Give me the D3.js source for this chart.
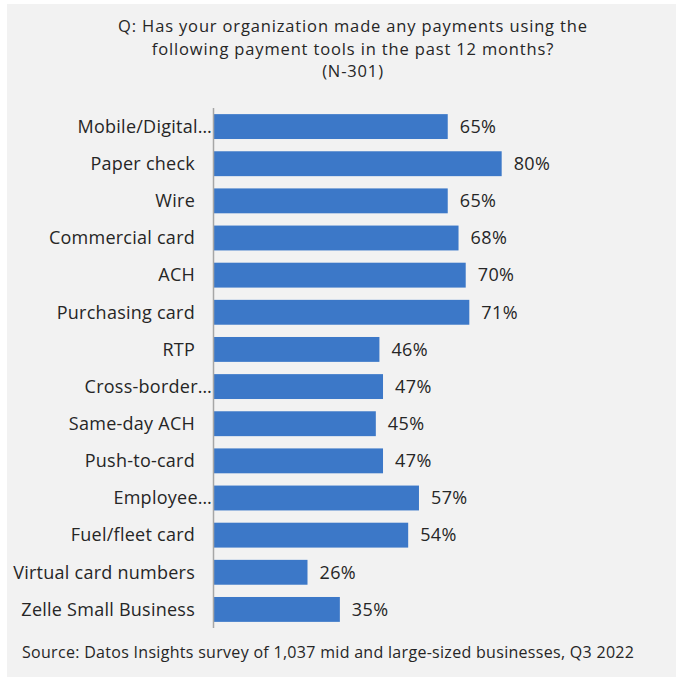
<!DOCTYPE html>
<html>
<head>
<meta charset="utf-8">
<script src="https://cdn.jsdelivr.net/npm/d3@7"></script>
<style>
  html, body { margin: 0; padding: 0; background: #ffffff; }
  svg { display: block; font-family: "Open Sans", Lato, sans-serif; }
</style>
</head>
<body>
<svg id="chart" width="679" height="680"></svg>
<script>
// Survey: payment tools used in the past 12 months (share of respondents)
const categories = [
  "Mobile/Digital…", "Paper check", "Wire", "Commercial card", "ACH",
  "Purchasing card", "RTP", "Cross-border…", "Same-day ACH", "Push-to-card",
  "Employee…", "Fuel/fleet card", "Virtual card numbers", "Zelle Small Business"
];
const values = [65, 80, 65, 68, 70, 71, 46, 47, 45, 47, 57, 54, 26, 35];
const titleLines = [
  "Q: Has your organization made any payments using the",
  "following payment tools in the past 12 months?",
  "(N-301)"
];
const sourceNote = "Source: Datos Insights survey of 1,037 mid and large-sized businesses, Q3 2022";

const svg = d3.select("#chart");
const textColor = "#262626";

// panel background
svg.append("rect")
  .attr("x", 7).attr("y", 4)
  .attr("width", 669).attr("height", 673)
  .attr("fill", "#f2f2f2");

// title
svg.append("g").selectAll("text")
  .data(titleLines)
  .join("text")
  .attr("x", 353)
  .attr("y", (d, i) => 32 + i * 22.5)
  .attr("text-anchor", "middle")
  .attr("font-size", 16.5)
  .attr("letter-spacing", 0.85)
  .attr("fill", textColor)
  .text(d => d);

const x = d3.scaleLinear().domain([0, 100]).range([214, 573.6]);
const y = d3.scaleBand().domain(categories).range([108, 628])
  .paddingInner(0.33).paddingOuter(0.165);

const rows = categories.map((c, i) => ({ cat: c, val: values[i] }));

// bars
svg.append("g").selectAll("rect")
  .data(rows)
  .join("rect")
  .attr("x", x(0))
  .attr("y", d => y(d.cat))
  .attr("width", d => x(d.val) - x(0))
  .attr("height", y.bandwidth())
  .attr("fill", "#3c78c8");

// category axis line
svg.append("line")
  .attr("x1", 213.5).attr("x2", 213.5)
  .attr("y1", 108).attr("y2", 628)
  .attr("stroke", "#a6a6a6")
  .attr("stroke-width", 1.5);

// category labels
svg.append("g").selectAll("text")
  .data(rows)
  .join("text")
  .attr("x", d => d.cat.endsWith("…") ? 212 : 195)
  .attr("y", d => y(d.cat) + y.bandwidth() / 2)
  .attr("dy", "0.35em")
  .attr("text-anchor", "end")
  .attr("font-size", 18)
  .attr("letter-spacing", 0.25)
  .attr("fill", textColor)
  .text(d => d.cat);

// value labels
svg.append("g").selectAll("text")
  .data(rows)
  .join("text")
  .attr("x", d => x(d.val) + 12)
  .attr("y", d => y(d.cat) + y.bandwidth() / 2)
  .attr("dy", "0.35em")
  .attr("font-size", 18)
  .attr("letter-spacing", 0.4)
  .attr("fill", textColor)
  .text(d => d.val + "%");

// source note
svg.append("text")
  .attr("x", 22).attr("y", 658)
  .attr("font-size", 16)
  .attr("letter-spacing", 0.3)
  .attr("fill", textColor)
  .text(sourceNote);
</script>
</body>
</html>
